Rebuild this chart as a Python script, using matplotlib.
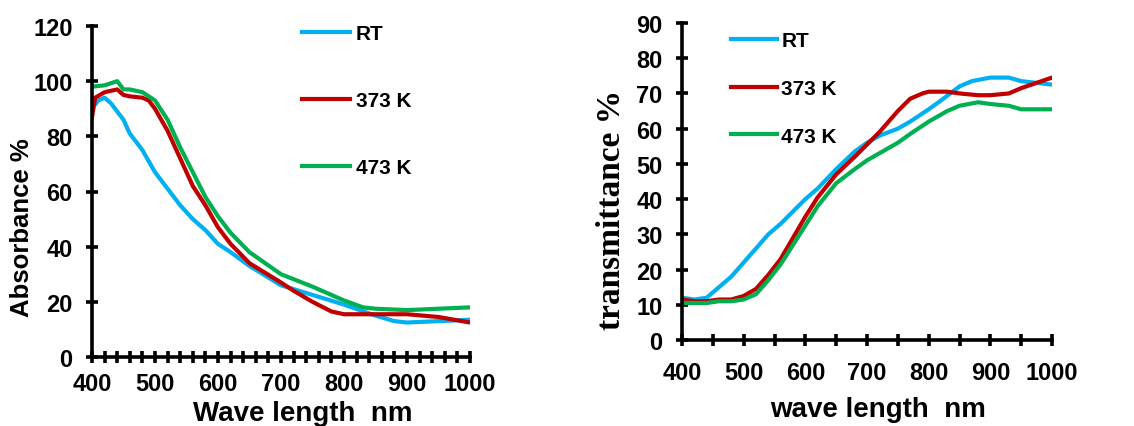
import matplotlib.pyplot as plt
from matplotlib.ticker import MultipleLocator

# absorbance (left panel)
abs_rt_x = [400, 410, 420, 430, 440, 450, 460, 480, 500, 520, 540, 560, 580, 600, 620, 650,
            700, 750, 800, 850, 880, 900, 950, 1000]
abs_rt_y = [90, 93, 94, 92, 89, 86, 81, 75, 67, 61, 55, 50, 46, 41, 38, 33,
            26, 22.5, 19, 15, 13, 12.5, 13, 13.5]

abs_373_x = [400, 405, 420, 440, 450, 460, 480, 490, 500, 520, 540, 560, 580, 600, 620, 650,
             700, 720, 750, 780, 800, 850, 900, 950, 1000]
abs_373_y = [87, 94, 96, 97, 95, 94.5, 94, 93, 90, 82, 72, 62, 55, 47, 41, 34,
             27, 24, 20, 16.5, 15.5, 15.5, 15.5, 14.5, 12.5]

abs_473_x = [400, 420, 440, 450, 460, 480, 500, 520, 540, 560, 580, 600, 620, 650,
             700, 750, 800, 830, 850, 900, 950, 1000]
abs_473_y = [98, 98.5, 100, 97, 97, 96, 93, 86, 76, 67, 58, 51, 45, 38,
             30, 25.5, 20.5, 18, 17.5, 17, 17.5, 18]

# transmittance (right panel)
tr_rt_x = [400, 420, 440, 460, 480, 500, 520, 540, 560, 580, 600, 620, 650, 680, 700, 720,
           750, 770, 800, 820, 850, 870, 900, 930, 950, 1000]
tr_rt_y = [12, 11.5, 12, 15, 18, 22, 26, 30, 33, 36.5, 40, 43, 48.5, 53.5, 56, 58,
           60, 62, 65.5, 68, 72, 73.5, 74.5, 74.5, 73.5, 72.5]

tr_373_x = [400, 420, 440, 460, 480, 500, 520, 540, 560, 580, 600, 620, 650, 680, 700, 720,
            740, 750, 770, 790, 800, 830, 850, 880, 900, 930, 950, 1000]
tr_373_y = [11.5, 11, 11, 11.5, 11.5, 12.5, 14.5, 18.5, 23, 29, 35, 40.5, 47, 52, 55.5, 59,
            63, 65, 68.5, 70, 70.5, 70.5, 70, 69.5, 69.5, 70, 71.5, 74.5]

tr_473_x = [400, 420, 440, 460, 480, 500, 520, 540, 560, 580, 600, 620, 650, 680, 700, 720,
            750, 770, 800, 830, 850, 880, 900, 930, 950, 1000]
tr_473_y = [10.5, 10.5, 10.5, 11, 11, 11.5, 13, 17, 21.5, 27, 32.5, 38, 44.5, 48.5, 51, 53,
            56, 58.5, 62, 65, 66.5, 67.5, 67, 66.5, 65.5, 65.5]

labels = ["RT", "373 K", "473 K"]
colors = ["#00B0F0", "#C00000", "#00B050"]

plt.rcParams["font.family"] = ["Liberation Sans", "DejaVu Sans"]
plt.rcParams["font.weight"] = "bold"

fig = plt.figure(figsize=(11.34, 4.27), dpi=100)
ax1 = fig.add_axes([92 / 1134, 1 - 358 / 427, 378 / 1134, 331 / 427])
ax2 = fig.add_axes([682 / 1134, 1 - 341 / 427, 370 / 1134, 317 / 427])


def style(ax, xminor, ymajor, xpad):
    for s in ["top", "right"]:
        ax.spines[s].set_visible(False)
    for s in ["left", "bottom"]:
        ax.spines[s].set_linewidth(2.6)
    ax.set_xlim(400, 1000)
    ax.xaxis.set_major_locator(MultipleLocator(100))
    ax.xaxis.set_minor_locator(MultipleLocator(xminor))
    ax.yaxis.set_major_locator(MultipleLocator(ymajor))
    ax.tick_params(which="both", direction="inout", width=2.6, labelsize=17)
    ax.tick_params(axis="x", which="both", length=8)
    ax.tick_params(axis="x", which="major", pad=xpad)
    ax.tick_params(axis="y", which="major", length=8, pad=10)
    for t in ax.get_xticklabels() + ax.get_yticklabels():
        t.set_fontweight("bold")


series1 = [(abs_rt_x, abs_rt_y), (abs_373_x, abs_373_y), (abs_473_x, abs_473_y)]
for (x, y), lab, c in zip(series1, labels, colors):
    ax1.plot(x, y, color=c, lw=3, label=lab)
ax1.set_ylim(0, 120)
style(ax1, 20, 20, 7)
ax1.legend(loc="upper left", bbox_to_anchor=(0.533, 1.03), frameon=False,
           prop={"weight": "bold", "size": 15}, handlelength=2.3, handletextpad=0.3,
           labelspacing=2.29, borderaxespad=0)
fig.text(303 / 1134, 1 - 421 / 427, "Wave length  nm", ha="center", va="baseline",
         fontsize=20, fontweight="bold")
fig.text(22 / 1134, 1 - 228 / 427, "Absorbance %", ha="center", va="center",
         rotation=90, fontsize=18.5, fontweight="bold")

series2 = [(tr_rt_x, tr_rt_y), (tr_373_x, tr_373_y), (tr_473_x, tr_473_y)]
for (x, y), lab, c in zip(series2, labels, colors):
    ax2.plot(x, y, color=c, lw=3, label=lab)
ax2.set_ylim(0, 90)
style(ax2, 50, 10, 11)
ax2.legend(loc="upper left", bbox_to_anchor=(0.111, 1.0), frameon=False,
           prop={"weight": "bold", "size": 15}, handlelength=2.2, handletextpad=0.2,
           labelspacing=1.375, borderaxespad=0)
fig.text(878 / 1134, 1 - 417 / 427, "wave length  nm", ha="center", va="baseline",
         fontsize=20, fontweight="bold")
fig.text(612 / 1134, 1 - 210 / 427, "transmittance %", ha="center", va="center",
         rotation=90, fontsize=24, fontweight="bold",
         family=["Liberation Serif", "DejaVu Serif"])

fig.savefig("out.png", dpi=100)
